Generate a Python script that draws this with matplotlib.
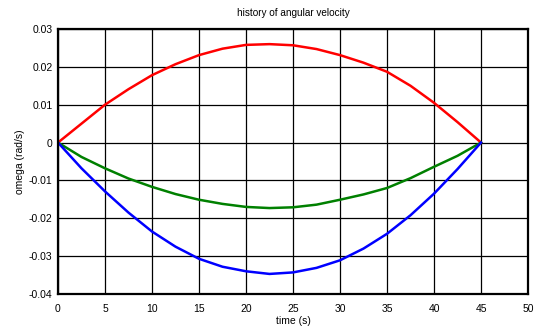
import matplotlib
matplotlib.use("Agg")
import matplotlib.pyplot as plt

# values
t = [0, 2.5, 5, 7.5, 10, 12.5, 15, 17.5, 20, 22.5, 25, 27.5, 30, 32.5, 35, 37.5, 40, 42.5, 45]
omega_red = [0, 0.0050, 0.0100, 0.0141, 0.0178, 0.0207, 0.0231, 0.0248, 0.0258, 0.0260,
             0.0257, 0.0247, 0.0231, 0.0211, 0.0187, 0.0150, 0.0105, 0.0054, 0]
omega_green = [0, -0.0038, -0.0068, -0.0095, -0.0117, -0.0136, -0.0151, -0.0162, -0.0170, -0.0173,
               -0.0171, -0.0164, -0.0151, -0.0137, -0.0120, -0.0094, -0.0064, -0.0035, 0]
omega_blue = [0, -0.0068, -0.0129, -0.0185, -0.0235, -0.0275, -0.0307, -0.0328, -0.0340, -0.0347,
              -0.0343, -0.0331, -0.0311, -0.0280, -0.0241, -0.0192, -0.0135, -0.0070, 0]
xticks = [0, 5, 10, 15, 20, 25, 30, 35, 40, 45, 50]
yticks = [-0.04, -0.03, -0.02, -0.01, 0, 0.01, 0.02, 0.03]
ytick_labels = ['-0.04', '-0.03', '-0.02', '-0.01', '0', '0.01', '0.02', '0.03']

plt.rcParams['font.family'] = ['Liberation Sans', 'DejaVu Sans']

fig = plt.figure(figsize=(5.34, 3.31), dpi=100)
ax = fig.add_axes([0.1086, 0.1118, 0.8802, 0.8006])

ax.plot(t, omega_red, color='#ff0000', lw=1.8)
ax.plot(t, omega_green, color='#008000', lw=1.8)
ax.plot(t, omega_blue, color='#0000ff', lw=1.8)

ax.set_xlim(0, 50)
ax.set_ylim(-0.04, 0.03)
ax.set_xticks(xticks)
ax.set_yticks(yticks)
ax.set_yticklabels(ytick_labels)
ax.tick_params(labelsize=7.5, length=0)
ax.tick_params(axis='x', pad=7)
ax.tick_params(axis='y', pad=4)
ax.grid(True, color='black', lw=0.9)
ax.set_axisbelow(True)
for s in ax.spines.values():
    s.set_linewidth(1.6)

ax.set_xlabel('time (s)', fontsize=7.5, labelpad=2)
ax.set_ylabel('omega (rad/s)', fontsize=7.5, labelpad=3)
ax.set_title('history of angular velocity', fontsize=7.2, pad=9)

fig.savefig('out.png', dpi=100)
